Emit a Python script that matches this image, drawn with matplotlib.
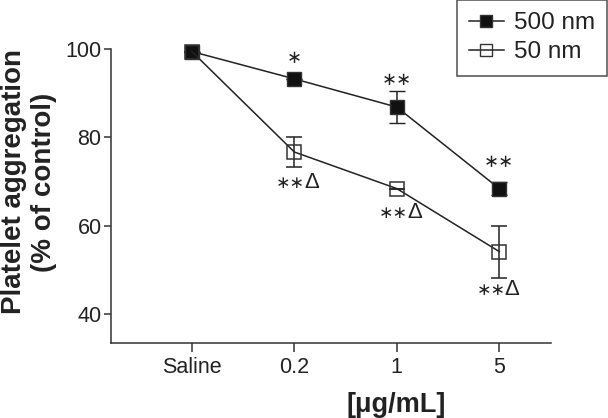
import matplotlib
matplotlib.use('Agg')
import matplotlib.pyplot as plt
from matplotlib.lines import Line2D

categories = ['Saline', '0.2', '1', '5']
series_500 = [99.5, 93.3, 86.9, 68.4]
err_500 = [0.0, 0.0, 3.6, 1.5]
series_50 = [99.5, 76.7, 68.4, 54.1]
err_50 = [0.0, 3.3, 0.0, 5.9]
stars_500 = ['', '\u2217', '\u2217\u2217', '\u2217\u2217']
stars_50 = ['', '\u2217\u2217', '\u2217\u2217', '\u2217\u2217']
delta_50 = ['', '\u0394', '\u0394', '\u0394']
legend_labels = ['500 nm', '50 nm']
y_ticks = [40, 60, 80, 100]

plt.rcParams['font.family'] = ['Liberation Sans', 'DejaVu Sans']
INK = '#222222'

fig = plt.figure(figsize=(6.08, 4.18), dpi=100)
ax = fig.add_axes([0.183, 0.180, 0.724, 0.723])

x = list(range(len(categories)))
ms = 10
ax.errorbar(x, series_500, yerr=err_500, color=INK, lw=1.1, marker='s',
            ms=ms, mfc='#111111', mec='#333333', mew=1.0, capsize=5.5,
            elinewidth=1.1, capthick=1.1, clip_on=False, zorder=3)
ax.errorbar(x, series_50, yerr=err_50, color=INK, lw=1.1, marker='s',
            ms=ms, mfc='none', mec='#333333', mew=1.1, capsize=5.5,
            elinewidth=1.1, capthick=1.1, clip_on=False, zorder=3)

# significance marks (offsets in pixels from the data point)
off_500 = [(0, 0), (0, 21), (0, 27), (0, 27)]
off_50 = [(0, 0), (5, -36), (6, -29.5), (1, -43.5)]
for i in x:
    if stars_500[i]:
        ax.annotate(stars_500[i], (x[i], series_500[i]), xytext=off_500[i],
                    textcoords='offset pixels', ha='center', va='center',
                    fontsize=13, family='DejaVu Sans', color=INK)
    if stars_50[i]:
        dx, dy = off_50[i]
        ax.annotate(stars_50[i], (x[i], series_50[i]), xytext=(dx - 9, dy),
                    textcoords='offset pixels', ha='center', va='baseline',
                    fontsize=12.5, family='DejaVu Sans', color=INK)
        ax.annotate(delta_50[i], (x[i], series_50[i]), xytext=(dx + 12, dy),
                    textcoords='offset pixels', ha='center', va='baseline',
                    fontsize=16, family='Liberation Sans', color=INK)

ax.set_xlim(-0.787, 3.51)
ax.set_ylim(33.4, 102)
ax.spines['top'].set_visible(False)
ax.spines['right'].set_visible(False)
ax.spines['left'].set_bounds(33.4, 100)
for s in ['left', 'bottom']:
    ax.spines[s].set_color('#333333')
    ax.spines[s].set_linewidth(1.1)
ax.set_xticks(x)
ax.set_xticklabels(categories)
ax.set_yticks(y_ticks)
ax.tick_params(axis='x', length=6.5, width=1.1, pad=4, labelsize=15.5,
               colors='#333333', labelcolor=INK)
ax.tick_params(axis='y', length=5, width=1.1, pad=2, labelsize=15.5,
               colors='#333333', labelcolor=INK)

fig.text(29 / 608, 1 - 182 / 418, 'Platelet aggregation\n(% of control)',
         rotation=90, ha='center', va='center', fontsize=20,
         fontweight='bold', color=INK, linespacing=1.2, multialignment='center')
fig.text(396.5 / 608, 1 - 392 / 418, '[\u03bcg/mL]', ha='center', va='top',
         fontsize=19.5, fontweight='bold', color=INK)

handles = [Line2D([], [], color=INK, lw=1.1, marker='s', ms=8.5, mfc='#111111', mec='#333333'),
           Line2D([], [], color=INK, lw=1.1, marker='s', ms=8.5, mfc='none', mec='#333333')]
leg = fig.legend(handles, legend_labels, loc='upper right',
                 bbox_to_anchor=(607 / 608, 1.0), bbox_transform=fig.transFigure,
                 fontsize=17.5, frameon=True, fancybox=False, edgecolor='#222222',
                 handlelength=1.45, handletextpad=0.4, labelspacing=0.3,
                 borderpad=0.5, borderaxespad=0.0)
leg.get_frame().set_linewidth(1.1)
for t in leg.get_texts():
    t.set_color(INK)

fig.savefig('out.png', dpi=100)
